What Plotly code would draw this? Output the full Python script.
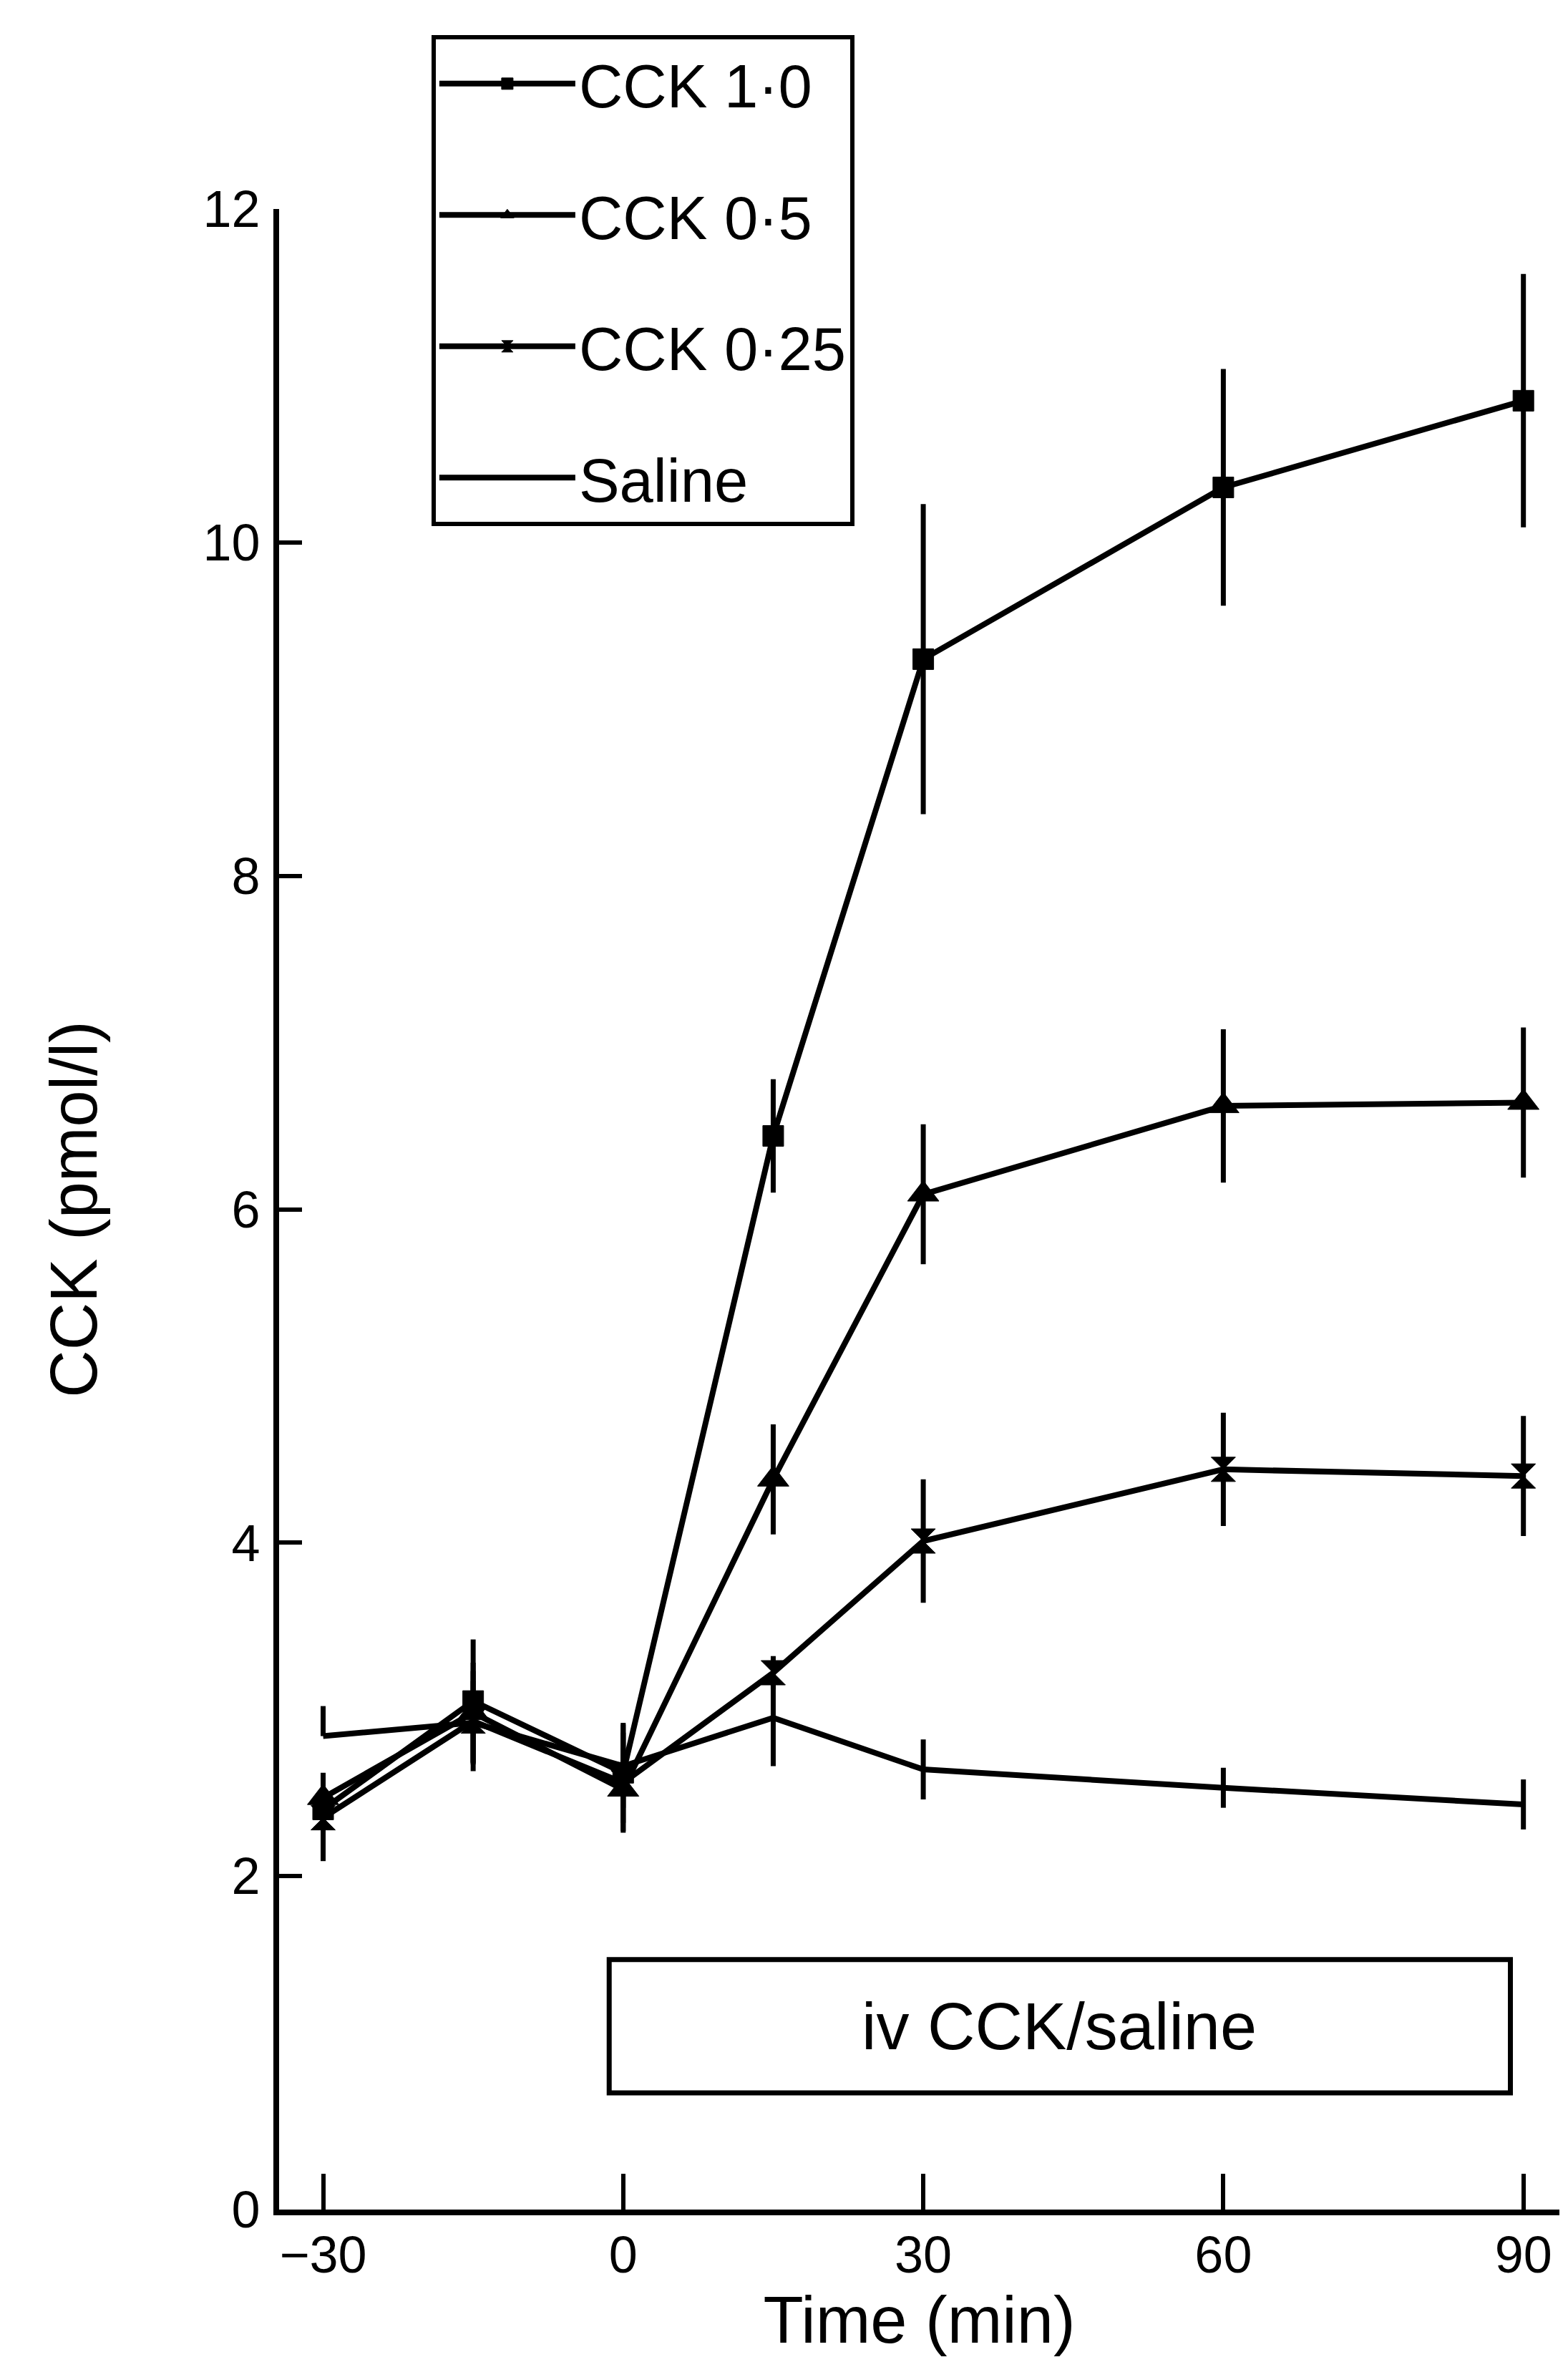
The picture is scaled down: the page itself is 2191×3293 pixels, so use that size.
import plotly.graph_objects as go

# ---------------- data ----------------
time_min = [-30, -15, 0, 15, 30, 60, 90]

cck_10 = [2.40, 3.05, 2.62, 6.44, 9.30, 10.33, 10.85]
cck_10_err = [0.20, 0.37, 0.30, 0.34, 0.93, 0.71, 0.76]

cck_05 = [2.47, 2.98, 2.52, 4.38, 6.09, 6.62, 6.64]
cck_05_err = [0.15, 0.30, 0.25, 0.33, 0.42, 0.46, 0.45]

cck_025 = [2.35, 2.93, 2.56, 3.22, 4.01, 4.44, 4.40]
cck_025_err = [0.26, 0.30, 0.30, 0.10, 0.37, 0.34, 0.36]

saline = [2.84, 2.92, 2.66, 2.95, 2.64, 2.53, 2.43]
saline_err_plus = [0.18, 0.25, 0.25, 0.28, 0.18, 0.12, 0.15]
saline_err_minus = [0.00, 0.25, 0.25, 0.29, 0.18, 0.12, 0.15]

series_names = ["CCK 1·0", "CCK 0·5", "CCK 0·25", "Saline"]
x_tick_vals = [-30, 0, 30, 60, 90]
x_tick_text = ["−30", "0", "30", "60", "90"]
y_tick_vals = [0, 2, 4, 6, 8, 10, 12]
box_label = "iv CCK/saline"

FONT = "Liberation Sans, Arial, Helvetica, sans-serif"

fig = go.Figure()


def add_series(name, y, eplus, eminus, symbol, msize):
    mode = "lines+markers" if symbol else "lines"
    fig.add_trace(go.Scatter(
        x=time_min, y=y, name=name, legendgroup=name, mode=mode,
        line=dict(color="black", width=8),
        marker=dict(symbol=symbol or "circle", size=msize, color="black",
                    line=dict(color="black", width=1)),
        error_y=dict(type="data", array=eplus, arrayminus=eminus,
                     symmetric=False, width=0, thickness=7, color="black"),
        cliponaxis=False,
    ))


add_series(series_names[0], cck_10, cck_10_err, cck_10_err, "square", 29)
add_series(series_names[1], cck_05, cck_05_err, cck_05_err, "triangle-up", 38)
add_series(series_names[2], cck_025, cck_025_err, cck_025_err, "hourglass", 34)
add_series(series_names[3], saline, saline_err_plus, saline_err_minus, None, 1)

# infusion box
fig.add_shape(type="rect", xref="x", yref="y", x0=-1.4, x1=88.7, y0=0.70, y1=1.50,
              line=dict(color="black", width=7), fillcolor="white", layer="above")
fig.add_annotation(x=43.6, y=1.10, xref="x", yref="y", text=box_label,
                   showarrow=False, font=dict(family=FONT, size=92, color="black"))

fig.update_layout(
    width=2191, height=3293,
    margin=dict(l=382, r=20, t=284, b=214),
    plot_bgcolor="white", paper_bgcolor="white",
    font=dict(family=FONT, color="black", size=72),
    showlegend=True,
    legend=dict(
        x=0.119, y=1.0869, xanchor="left", yanchor="top",
        bordercolor="black", borderwidth=6, bgcolor="white",
        font=dict(family=FONT, size=85, color="black"),
        traceorder="grouped", tracegroupgap=70, itemwidth=190,
    ),
    xaxis=dict(
        range=[-34.4, 93.6], tickvals=x_tick_vals, ticktext=x_tick_text,
        ticks="inside", ticklen=50, tickwidth=6, tickcolor="black",
        showline=True, linewidth=8, linecolor="black",
        showgrid=False, zeroline=False,
        tickfont=dict(family=FONT, size=72, color="black"),
        ticklabelstandoff=-6,
        title=dict(text="Time (min)", font=dict(family=FONT, size=92, color="black"), standoff=14),
        automargin=False,
    ),
    yaxis=dict(
        range=[0, 12], tickvals=y_tick_vals,
        ticks="inside", ticklen=32, tickwidth=6, tickcolor="black",
        showline=True, linewidth=8, linecolor="black",
        showgrid=False, zeroline=False,
        tickfont=dict(family=FONT, size=72, color="black"),
        ticklabelstandoff=4,
        title=dict(text="CCK (pmol/l)", font=dict(family=FONT, size=92, color="black"), standoff=120),
        automargin=False,
    ),
)

fig.write_html("out.html")
